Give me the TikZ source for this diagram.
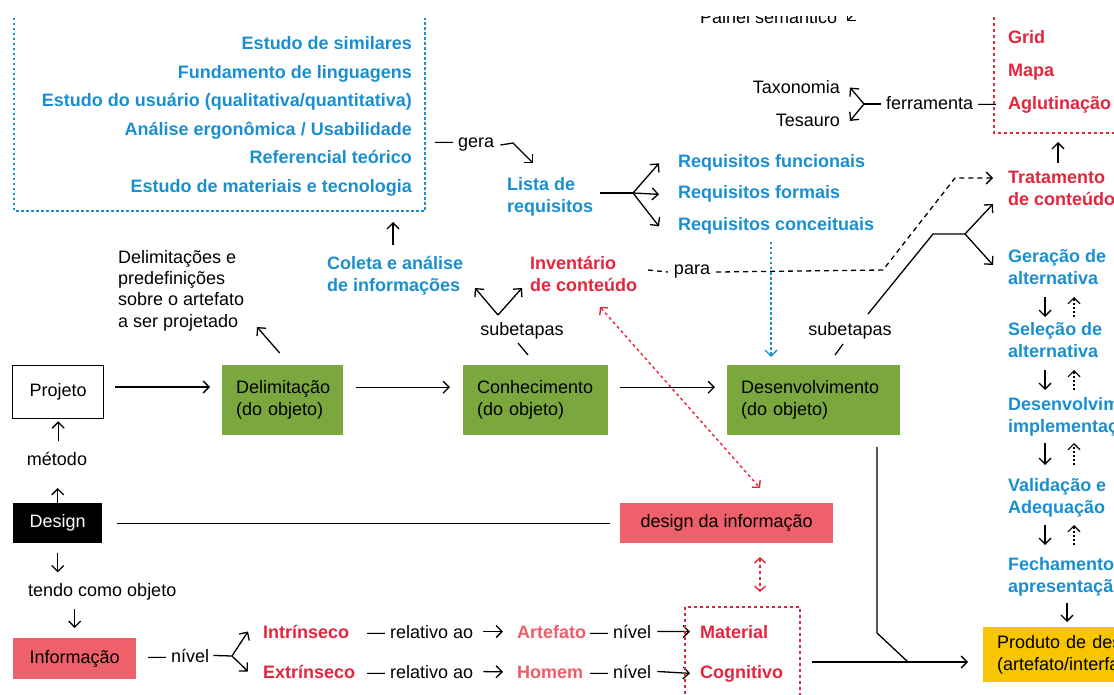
\documentclass[tikz,border=0pt]{standalone}
\usepackage{fontspec}
\setmainfont{Liberation Sans}
\usetikzlibrary{arrows.meta}
\definecolor{cblue}{HTML}{1A8FD0}
\definecolor{cred}{HTML}{E3263C}
\definecolor{cpink}{HTML}{EE5C69}
\definecolor{cpinkfill}{HTML}{EE616B}
\definecolor{cgreen}{HTML}{7BA83E}
\definecolor{cyellow}{HTML}{F7C600}
\tikzset{
  tx/.style={inner sep=0pt, anchor=base west, font=\fontsize{18}{22}\selectfont, align=left},
  bl/.style={tx, text=cblue, font=\fontsize{18}{22}\selectfont\bfseries},
  rd/.style={tx, text=cred, font=\fontsize{18}{22}\selectfont\bfseries},
  pk/.style={tx, text=cpink, font=\fontsize{18}{22}\selectfont\bfseries},
  tip/.style={-{Straight Barb[length=6pt,width=12pt]}},
  ln/.style={line width=1.3pt, draw=black},
  arr/.style={ln, tip},
  dbl/.style={{Straight Barb[length=5pt,width=11pt]}-{Straight Barb[length=5pt,width=11pt]}},
  bdot/.style={draw=cblue, line width=1.4pt, dash pattern=on 2.5pt off 2.5pt},
  rdot/.style={draw=cred, line width=1.4pt, dash pattern=on 3pt off 3pt},
  kdash/.style={ln, dash pattern=on 5pt off 4pt},
  updot/.style={ln, line width=1.1pt, dash pattern=on 2pt off 2pt, tip},
  box/.style={inner sep=0pt, anchor=north west, font=\fontsize{18}{22}\selectfont},
  gbox/.style={box, fill=cgreen, inner xsep=14pt, minimum height=70pt, align=left},
}
\begin{document}
\begin{tikzpicture}[x=1pt,y=-1pt]
\useasboundingbox (0,0) rectangle (1114,695);
\clip (0,0) rectangle (1114,695);

% ---------- top-left blue box ----------
\draw[bdot] (14,18) -- (14,211) -- (425,211) -- (425,18);
\node[bl, anchor=base east] (s1) at (412,50) {Estudo de similares};
\node[bl, anchor=base east] (s2) at (412,78.5) {Fundamento de linguagens};
\node[bl, anchor=base east] (s3) at (412,107) {Estudo do usuário (qualitativa/quantitativa)};
\node[bl, anchor=base east] (s4) at (412,136) {Análise ergonômica / Usabilidade};
\node[bl, anchor=base east] (s5) at (412,164) {Referencial teórico};
\node[bl, anchor=base east] (s6) at (412,192.5) {Estudo de materiais e tecnologia};

\node[tx] (gera) at (435,148) {— gera};
\coordinate (g1) at (513,143);
\coordinate (g2) at (533,163);
\draw[arr] ([xshift=6pt]gera.east) -- (g1) -- (g2);

\node[bl] (lista) at (507,213) {Lista de\\requisitos};
\coordinate (f1) at (633,193);
\coordinate (f1s) at (600,193);
\draw[ln] (f1s) -- (f1);
\node[bl] (rq1) at (678,168) {Requisitos funcionais};
\node[bl] (rq2) at (678,199) {Requisitos formais};
\node[bl] (rq3) at (678,231) {Requisitos conceituais};
\draw[arr] (f1) -- ([xshift=-19pt]rq1.west);
\draw[arr] (f1) -- ([xshift=-19pt]rq2.west);
\draw[arr] (f1) -- ([xshift=-19pt]rq3.west);
\coordinate (bv1) at (771,242);
\coordinate (bv2) at (771,357);
\draw[bdot, tip] (bv1) -- (bv2);

% ---------- top right ----------
\begin{scope}
\clip (0,17) rectangle (1114,695);
\node[tx] (painel) at (700,24) {Painel semântico};
\coordinate (p1) at (858,10);
\coordinate (p2) at (847,21);
\draw[arr] (p1) -- (p2);
\end{scope}

\node[tx, anchor=base east] (taxo) at (840,94) {Taxonomia};
\node[tx, anchor=base east] (tesa) at (840,127) {Tesauro};
\node[tx] (ferr) at (886,110) {ferramenta —};
\coordinate (f3) at (864,104);
\coordinate (f3s) at (881,104);
\draw[ln] (f3s) -- (f3);
\draw[arr] (f3) -- ([xshift=10pt]taxo.east);
\draw[arr] (f3) -- ([xshift=10pt]tesa.east);

\draw[rdot] (994,17) -- (994,133) -- (1114,133);
\node[rd] (grid) at (1008,44) {Grid};
\node[rd] (mapa) at (1008,77) {Mapa};
\node[rd] (aglu) at (1008,110) {Aglutinação};
\node[rd] (trat) at (1008,206) {Tratamento\\de conteúdo};
\coordinate (t1) at (1058,163);
\coordinate (t2) at (1058,142);
\draw[arr] (t1) -- (t2);

% ---------- middle texts ----------
\node[tx, font=\fontsize{18}{21.3}\selectfont] (dtext) at (118,327) {Delimitações e\\predefinições\\sobre o artefato\\a ser projetado};
\node[bl] (coleta) at (327,291) {Coleta e análise\\de informações};
\coordinate (c1) at (393,245);
\coordinate (c2) at (393,222);
\draw[arr] (c1) -- (c2);
\node[rd] (inv) at (530,291) {Inventário\\de conteúdo};

\node[tx, anchor=base] (sub1) at (522,335) {subetapas};
\coordinate (sa) at (528,355);
\coordinate (sb) at (518,343);
\draw[ln] (sa) -- (sb);
\coordinate (v1) at (498,315);
\coordinate (v1a) at (475,288);
\coordinate (v1b) at (522,288);
\draw[arr] (v1) -- (v1a);
\draw[arr] (v1) -- (v1b);

\node[tx, anchor=base] (para) at (692,275) {para};
\coordinate (pa0) at (648,270);
\coordinate (pa1) at (883,270);
\coordinate (pa2) at (955,178);
\coordinate (pa3) at (993,178);
\draw[kdash] (pa0) -- ([xshift=-6pt]para.west);
\draw[kdash, tip] ([xshift=6pt]para.east) -- (pa1) -- (pa2) -- (pa3);

\node[tx, anchor=base] (sub2) at (850,335) {subetapas};
\coordinate (sc) at (835,355);
\coordinate (sd) at (843,344);
\draw[ln] (sc) -- (sd);
\coordinate (l0) at (868,314);
\coordinate (l1) at (933,234);
\coordinate (f2) at (965,234);
\draw[ln] (l0) -- (l1) -- (f2);
\coordinate (f2a) at (993,204);
\coordinate (f2b) at (993,265);
\draw[arr] (f2) -- (f2a);
\draw[arr] (f2) -- (f2b);

% ---------- right column ----------
\node[bl] (ger) at (1008,284) {Geração de\\alternativa};
\node[bl] (sel) at (1008,357) {Seleção de\\alternativa};
\node[bl] (dev) at (1008,432) {Desenvolvimento e\\implementação};
\node[bl] (val) at (1008,513) {Validação e\\Adequação};
\node[bl] (fech) at (1008,592) {Fechamento e\\apresentação};
\foreach \a/\b [count=\i] in {297/317, 370/390, 443/465, 525/545}{
  \coordinate (da\i) at (1045,\a);
  \coordinate (db\i) at (1045,\b);
  \coordinate (ua\i) at (1074,\b);
  \coordinate (ub\i) at (1074,\a);
  \draw[arr] (da\i) -- (db\i);
  \draw[updot] (ua\i) -- (ub\i);
}
\coordinate (fp1) at (1067,603);
\coordinate (fp2) at (1067,622);
\draw[arr] (fp1) -- (fp2);
\node[box, fill=cyellow, text width=200pt, inner xsep=14pt, minimum height=55pt, align=left] (prod) at (983,627) {Produto de design\\(artefato/interface)};

% ---------- main row ----------
\node[box, draw=black, line width=1.3pt, minimum width=91pt, minimum height=53pt] (proj) at (12,365) {Projeto};
\node[gbox, text width=93pt] (delim) at (222,365) {Delimitação\\(do objeto)};
\node[gbox, text width=117pt] (conh) at (463,365) {Conhecimento\\(do objeto)};
\node[gbox, text width=145pt] (desenv) at (727,365) {Desenvolvimento\\(do objeto)};
\coordinate (ps) at (115,387);
\coordinate (pd) at (210,387);
\draw[arr] (ps) -- (pd);
\draw[arr] ([xshift=13pt,yshift=13pt]delim.east) -- ([xshift=-13pt,yshift=13pt]conh.west);
\draw[arr] ([xshift=12pt,yshift=13pt]conh.east) -- ([xshift=-12pt,yshift=13pt]desenv.west);
\coordinate (dd) at (257,327);
\draw[arr] ([xshift=-3pt,yshift=12pt]delim.north) -- (dd);

% ---------- left column ----------
\node[tx, anchor=base] (met) at (57,465) {método};
\draw[arr] ([yshift=-22pt]proj.south) -- ([yshift=-2pt]proj.south);
\node[box, fill=black, text=white, minimum width=89pt, minimum height=40pt] (design) at (13,503) {Design};
\draw[arr] ([yshift=-6pt]design.north) -- ([yshift=15pt]design.north);
\node[box, fill=cpinkfill, minimum width=213pt, minimum height=40pt] (dinfo) at (620,503) {design da informação};
\draw[ln] ([xshift=15pt]design.east) -- ([xshift=-10pt]dinfo.west);
\draw[arr] ([yshift=-10pt]design.south) -- ([yshift=-29pt]design.south);
\node[tx] (tendo) at (28,596) {tendo como objeto};
\node[box, fill=cpinkfill, minimum width=123pt, minimum height=41pt] (info) at (13,638) {Informação};
\draw[arr] ([yshift=29pt]info.north) -- ([yshift=10pt]info.north);

\node[tx] (nivel0) at (148,662) {— nível};
\coordinate (f4) at (232,656);
\draw[ln] ([xshift=4pt]nivel0.east) -- (f4);
\node[rd] (intr) at (263,638) {Intrínseco};
\node[rd] (extr) at (263,678) {Extrínseco};
\draw[arr] (f4) -- ([xshift=-15pt]intr.west);
\draw[arr] (f4) -- ([xshift=-15pt]extr.west);

\node[tx] (rel1) at (367,638) {— relativo ao};
\node[pk] (artef) at (517,638) {Artefato};
\node[tx] (niv1) at (590,638) {— nível};
\node[rd] (mat) at (700,638) {Material};
\draw[arr] ([xshift=10pt]rel1.east) -- ([xshift=-14pt]artef.west);
\draw[arr] ([xshift=6pt]niv1.east) -- ([xshift=-10pt]mat.west);

\node[tx] (rel2) at (367,678) {— relativo ao};
\node[pk] (homem) at (517,678) {Homem};
\node[tx] (niv2) at (590,678) {— nível};
\node[rd] (cog) at (700,678) {Cognitivo};
\draw[arr] ([xshift=10pt]rel2.east) -- ([xshift=-14pt]homem.west);
\draw[arr] ([xshift=6pt]niv2.east) -- ([xshift=-10pt]cog.west);

\draw[rdot] (685,700) -- (685,607) -- (800,607) -- (800,700);
\coordinate (r1) at (760,557);
\coordinate (r2) at (760,592);
\draw[rdot, dbl] (r1) -- (r2);
\coordinate (r3) at (600,307);
\coordinate (r4) at (760,488);
\draw[rdot, dbl] (r3) -- (r4);

\coordinate (q0) at (812,662);
\coordinate (q1) at (968,662);
\draw[arr] (q0) -- (q1);
\coordinate (w0) at (877,447);
\coordinate (w1) at (877,633);
\coordinate (w2) at (908,662);
\draw[ln] (w0) -- (w1) -- (w2);
\end{tikzpicture}
\end{document}
